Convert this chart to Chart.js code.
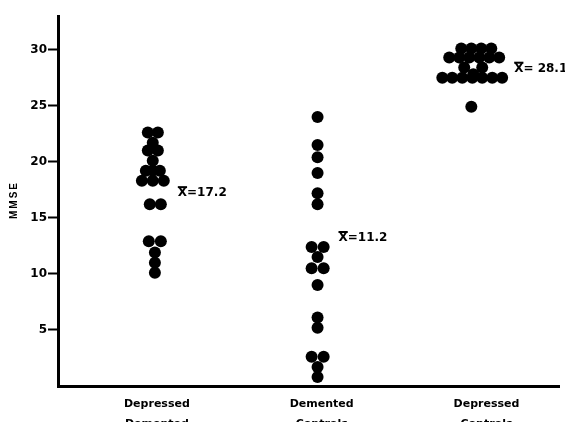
<!DOCTYPE html>
<html>
<head>
<meta charset="utf-8">
<script src="https://cdn.jsdelivr.net/npm/chart.js@4.4.1/dist/chart.umd.min.js"></script>
<style>
  html, body { margin: 0; padding: 0; background: #fff; overflow: hidden; }
  canvas { display: block; }
</style>
</head>
<body>
<canvas id="mmseChart" width="565" height="432"></canvas>
<script>
// groups along the x axis (tick value -> two line label)
const groupTicks = [1, 2, 3];
const groupLabels = [['Depressed', 'Demented'], ['Demented', 'Controls'], ['Depressed', 'Controls']];
const yTicks = [5, 10, 15, 20, 25, 30];

// Depressed Demented
const depDemX = [0.945, 1.006, 0.975, 0.945, 1.006, 0.975, 0.933, 0.975, 1.018, 0.909, 0.975, 1.042, 0.957, 1.024, 0.951, 1.024, 0.988, 0.988, 0.988];
const depDemY = [22.6, 22.6, 21.7, 21.0, 21.0, 20.1, 19.2, 19.2, 19.2, 18.3, 18.3, 18.3, 16.2, 16.2, 12.9, 12.9, 11.9, 11.0, 10.1];

// Demented Controls
const demCtlX = [1.975, 1.975, 1.975, 1.975, 1.975, 1.975, 1.939, 2.012, 1.975, 1.939, 2.012, 1.975, 1.975, 1.975, 1.939, 2.012, 1.975, 1.975];
const demCtlY = [24.0, 21.5, 20.4, 19.0, 17.2, 16.2, 12.4, 12.4, 11.5, 10.5, 10.5, 9.0, 6.1, 5.2, 2.6, 2.6, 1.7, 0.8];

// Depressed Controls
const depCtlX = [2.847, 2.908, 2.968, 3.029, 2.774, 2.835, 2.895, 2.956, 3.017, 3.077, 2.865, 2.974, 2.920, 2.732, 2.792, 2.853, 2.914, 2.974, 3.035, 3.095, 2.908];
const depCtlY = [30.1, 30.1, 30.1, 30.1, 29.3, 29.3, 29.3, 29.3, 29.3, 29.3, 28.4, 28.4, 27.8, 27.5, 27.5, 27.5, 27.5, 27.5, 27.5, 27.5, 24.9];

// group means and where their labels sit (x, y in axis units)
const meanText = ['=17.2', '=11.2', '= 28.1'];
const meanAt = [[1.127, 17.2], [2.102, 13.2], [3.168, 28.3]];

function toPoints(xs, ys) {
    return xs.map((x, i) => ({ x: x, y: ys[i] }));
}

const meanLabels = {
    id: 'meanLabels',
    afterDatasetsDraw(chart) {
        const ctx = chart.ctx;
        const xs = chart.scales.x;
        const ys = chart.scales.y;
        ctx.save();
        ctx.fillStyle = '#000';
        ctx.strokeStyle = '#000';
        ctx.font = 'bold 12px "DejaVu Sans"';
        ctx.textBaseline = 'middle';
        ctx.textAlign = 'left';
        meanAt.forEach((pos, i) => {
            const px = xs.getPixelForValue(pos[0]);
            const py = ys.getPixelForValue(pos[1]);
            ctx.fillText('X', px, py);
            const w = ctx.measureText('X').width;
            ctx.lineWidth = 2;
            ctx.beginPath();
            ctx.moveTo(px, py - 6);
            ctx.lineTo(px + w, py - 6);
            ctx.stroke();
            ctx.fillText(meanText[i], px + w, py);
        });
        ctx.restore();
    }
};

const dotStyle = {
    backgroundColor: '#000',
    borderWidth: 0,
    pointRadius: 6,
    pointHoverRadius: 6,
    clip: false
};

new Chart(document.getElementById('mmseChart'), {
    type: 'scatter',
    data: {
        datasets: [
            Object.assign({ label: 'Depressed Demented', data: toPoints(depDemX, depDemY) }, dotStyle),
            Object.assign({ label: 'Demented Controls', data: toPoints(demCtlX, demCtlY) }, dotStyle),
            Object.assign({ label: 'Depressed Controls', data: toPoints(depCtlX, depCtlY) }, dotStyle)
        ]
    },
    options: {
        responsive: false,
        animation: false,
        layout: { padding: { top: 16, right: 5, left: 0, bottom: 0 } },
        plugins: {
            legend: { display: false },
            tooltip: { enabled: false }
        },
        scales: {
            x: {
                type: 'linear',
                min: 0.4,
                max: 3.44,
                afterBuildTicks: scale => { scale.ticks = groupTicks.map(v => ({ value: v })); },
                afterFit: scale => { scale.height = 46; },
                ticks: {
                    autoSkip: false,
                    maxRotation: 0,
                    padding: 1,
                    color: '#000',
                    font: { family: 'DejaVu Sans', weight: 'bold', size: 11, lineHeight: 1.75 },
                    callback: (value, index) => groupLabels[index]
                },
                grid: { display: false },
                border: { color: '#000', width: 3 }
            },
            y: {
                min: 0,
                max: 33,
                afterBuildTicks: scale => { scale.ticks = yTicks.map(v => ({ value: v })); },
                afterFit: scale => { scale.width = 58; },
                ticks: {
                    padding: 1,
                    color: '#000',
                    font: { family: 'DejaVu Sans', weight: 'bold', size: 12 }
                },
                grid: {
                    drawOnChartArea: false,
                    tickLength: 10,
                    tickWidth: 2,
                    color: '#000'
                },
                border: { color: '#000', width: 3 },
                title: {
                    display: true,
                    text: 'M\u2009M\u2009S\u2009E',
                    color: '#000',
                    padding: { top: 8, bottom: 0 },
                    font: { family: 'Liberation Sans', weight: 'bold', size: 10 }
                }
            }
        }
    },
    plugins: [meanLabels]
});
</script>
</body>
</html>
